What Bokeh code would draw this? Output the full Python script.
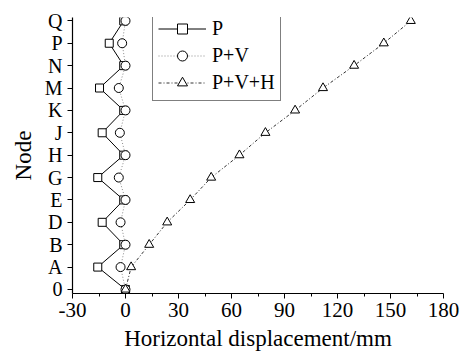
from bokeh.plotting import figure
from bokeh.models import FixedTicker, Legend, LegendItem, Range1d
from bokeh.embed import file_html
from bokeh.resources import INLINE

# Node names along the height of the structure, bottom to top
nodes = ["0", "A", "B", "D", "E", "G", "H", "J", "K", "M", "N", "P", "Q"]

# Horizontal displacement (mm) at each node for the three load cases
disp_p = [0, -15.7, -1, -13.2, -1, -15.7, -1, -13.2, -1, -14.7, -1, -9.2, -1]
disp_pv = [0, -2.8, 0, -2.8, 0, -3.8, 0, -3.2, 0, -3.8, 0, -1.9, 0]
disp_pvh = [0, 3.2, 13.4, 23.6, 36.6, 48.5, 64.5, 79.2, 96.0, 111.8, 129.4, 146.2, 161.5]

x_ticks = [-30, 0, 30, 60, 90, 120, 150, 180]
x_minor = [-15, 15, 45, 75, 105, 135, 165]

FONT = "'Liberation Serif', 'Times New Roman', serif"
y_idx = list(range(len(nodes)))

p = figure(
    width=468, height=353,
    x_range=Range1d(-30, 180), y_range=Range1d(-0.18, 12.15),
    output_backend="svg", toolbar_location=None,
    min_border_left=72, min_border_right=25,
    min_border_top=17, min_border_bottom=60,
)
p.outline_line_color = None
p.xgrid.visible = False
p.ygrid.visible = False

# Load case P: solid line with open squares
l1 = p.line(disp_p, y_idx, line_color="black", line_width=1)
s1 = p.scatter(disp_p, y_idx, marker="square", size=8,
               line_color="black", fill_color="white", line_width=1)
# Load case P+V: dotted line with open circles
l2 = p.line(disp_pv, y_idx, line_color="#8a8a8a", line_width=1, line_dash="1 2")
s2 = p.scatter(disp_pv, y_idx, marker="circle", size=9,
               line_color="black", fill_color="white", line_width=1)
# Load case P+V+H: dash-dot line with open triangles
l3 = p.line(disp_pvh, y_idx, line_color="#333333", line_width=1, line_dash="3 2 1 2")
s3 = p.scatter(disp_pvh, y_idx, marker="triangle", size=9,
               line_color="black", fill_color="white", line_width=1)

# Axes
for ax in (p.xaxis[0], p.yaxis[0]):
    ax.axis_line_color = "black"
    ax.axis_line_width = 1.2
    ax.major_tick_line_color = "black"
    ax.minor_tick_line_color = "black"
    ax.major_tick_in = 0
    ax.major_tick_out = 5
    ax.minor_tick_in = 0
    ax.minor_tick_out = 3
    ax.major_label_text_font = FONT
    ax.major_label_text_color = "black"
    ax.axis_label_text_font = FONT
    ax.axis_label_text_font_style = "normal"
    ax.axis_label_text_font_size = "23px"
    ax.axis_label_text_color = "black"

p.xaxis.ticker = FixedTicker(ticks=x_ticks, minor_ticks=x_minor)
p.xaxis.major_label_overrides = {t: str(t) for t in x_ticks}
p.xaxis.major_label_text_font_size = "21px"
p.xaxis.major_label_standoff = 4
p.xaxis.axis_label = "Horizontal displacement/mm"
p.xaxis.axis_label_standoff = 6

p.yaxis.ticker = FixedTicker(ticks=y_idx)
p.yaxis.major_label_overrides = {i: n for i, n in enumerate(nodes)}
p.yaxis.major_label_text_font_size = "20px"
p.yaxis.major_label_standoff = 5
p.yaxis.axis_label = "Node"
p.yaxis.axis_label_standoff = 6

legend = Legend(
    items=[
        LegendItem(label="P", renderers=[l1, s1]),
        LegendItem(label="P+V", renderers=[l2, s2]),
        LegendItem(label="P+V+H", renderers=[l3, s3]),
    ],
    location=(80, 192),
)
legend.label_text_font = FONT
legend.label_text_font_size = "20px"
legend.label_text_color = "black"
legend.glyph_width = 48
legend.glyph_height = 25
legend.label_height = 25
legend.label_standoff = 6
legend.spacing = 2
legend.padding = 5
legend.margin = 0
legend.border_line_color = "black"
legend.border_line_width = 1
legend.background_fill_color = "white"
legend.background_fill_alpha = 1
p.add_layout(legend)

open("out.html", "w").write(file_html(p, INLINE))
